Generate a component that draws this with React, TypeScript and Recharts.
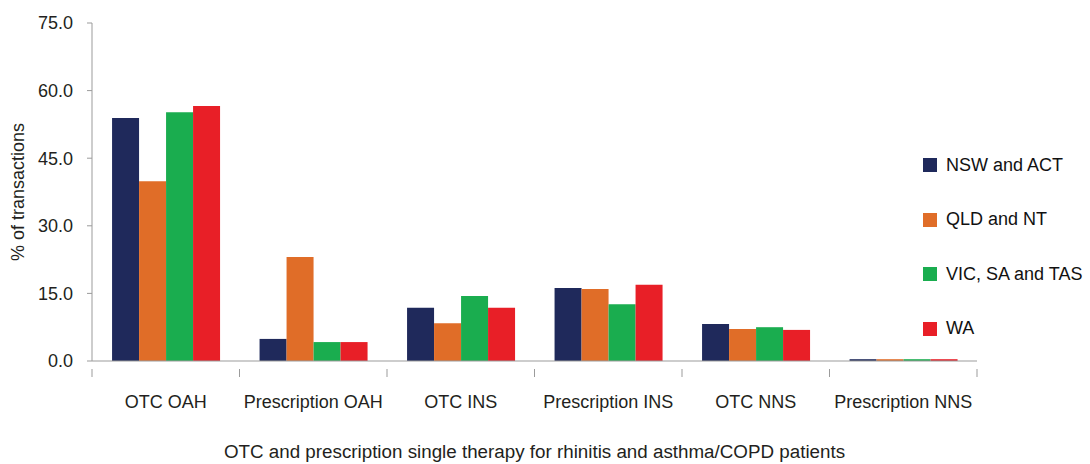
import { BarChart, Bar, XAxis, YAxis, CartesianGrid } from "recharts";

const categories = [
  "OTC OAH",
  "Prescription OAH",
  "OTC INS",
  "Prescription INS",
  "OTC NNS",
  "Prescription NNS",
];
const nswAct = [53.9, 4.9, 11.8, 16.2, 8.2, 0.4];
const qldNt = [39.9, 23.1, 8.4, 16.0, 7.1, 0.4];
const vicSaTas = [55.2, 4.2, 14.4, 12.6, 7.5, 0.4];
const wa = [56.6, 4.2, 11.8, 16.9, 6.9, 0.4];
const yTicks = [0, 15, 30, 45, 60, 75];

const series = [
  { key: "nsw", name: "NSW and ACT", color: "#1f295b" },
  { key: "qld", name: "QLD and NT", color: "#e06d28" },
  { key: "vic", name: "VIC, SA and TAS", color: "#1aad4f" },
  { key: "wa", name: "WA", color: "#e81f27" },
];

const data = categories.map((name, i) => ({
  name,
  nsw: nswAct[i],
  qld: qldNt[i],
  vic: vicSaTas[i],
  wa: wa[i],
}));

const FONT = "'Liberation Sans', Arial, sans-serif";
const AXIS = "#9b9b9b";
const TEXT = "#231f20";

function CategoryTick(props: any) {
  const { x, y, payload, index, width } = props;
  const band = (width ?? 885) / categories.length;
  const left = x - band / 2;
  return (
    <g>
      <line x1={left} y1={y} x2={left} y2={y + 8} stroke={AXIS} />
      {index === categories.length - 1 && (
        <line x1={left + band} y1={y} x2={left + band} y2={y + 8} stroke={AXIS} />
      )}
      <text x={x} y={y + 39} textAnchor="middle" fontSize={18} fill={TEXT} fontFamily={FONT}>
        {payload.value}
      </text>
    </g>
  );
}

export default function App() {
  return (
    <div style={{ position: "absolute", left: 0, top: 0, width: 1090, height: 464, background: "#fff", fontFamily: FONT }}>
      <BarChart
        width={1090}
        height={464}
        data={data}
        margin={{ top: 23, right: 113, left: 0, bottom: 0 }}
        barCategoryGap="13.6%"
        barGap={0}
      >
        <CartesianGrid horizontal={false} vertical={false} />
        <XAxis
          dataKey="name"
          height={103}
          stroke={AXIS}
          tickLine={false}
          tick={<CategoryTick />}
          interval={0}
          label={{
            value: "OTC and prescription single therapy for rhinitis and asthma/COPD patients",
            position: "insideBottom",
            offset: 6,
            fill: TEXT,
            fontSize: 18.8,
            fontFamily: FONT,
          }}
        />
        <YAxis
          width={92}
          domain={[0, 75]}
          ticks={yTicks}
          tickFormatter={(v: number) => v.toFixed(1)}
          stroke={AXIS}
          tickSize={5}
          tickMargin={14}
          tick={{ fill: TEXT, fontSize: 18, fontFamily: FONT }}
          label={{
            value: "% of transactions",
            angle: -90,
            position: "insideLeft",
            offset: 18,
            fill: TEXT,
            fontSize: 18,
            fontFamily: FONT,
            style: { textAnchor: "middle" },
          }}
        />
        {series.map((s) => (
          <Bar key={s.key} dataKey={s.key} name={s.name} fill={s.color} isAnimationActive={false} />
        ))}
      </BarChart>
      <div style={{ position: "absolute", left: 923, top: 138 }}>
        {series.map((s) => (
          <div key={s.key} style={{ display: "flex", alignItems: "center", height: 54.5 }}>
            <span style={{ display: "inline-block", width: 14, height: 14, background: s.color, marginRight: 9 }} />
            <span style={{ fontSize: 18, color: "#111", whiteSpace: "nowrap" }}>{s.name}</span>
          </div>
        ))}
      </div>
    </div>
  );
}
